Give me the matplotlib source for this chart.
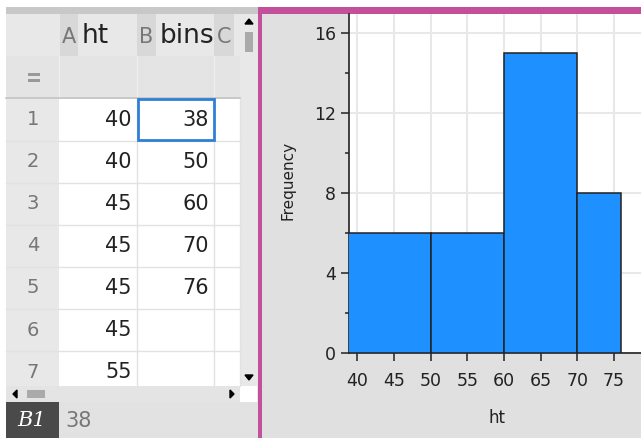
#!/usr/bin/env python3
"""
Lists & Spreadsheet page next to a histogram of ht with custom bins.
"""

import matplotlib
matplotlib.use('Agg')
import matplotlib.pyplot as plt
from matplotlib.patches import Rectangle, Polygon
import numpy as np

# spreadsheet contents (visible rows only)
ht_shown = [40, 40, 45, 45, 45, 45, 55]
bins = [38, 50, 60, 70, 76]
row_ids = [1, 2, 3, 4, 5, 6, 7]

# histogram frequencies per bin
freq = [6, 6, 15, 8]

y_ticks = [0, 4, 8, 12, 16]
y_minor = [2, 6, 10, 14]
x_ticks = [40, 45, 50, 55, 60, 65, 70, 75]

W, H = 641, 438
fig = plt.figure(figsize=(W / 100, H / 100), dpi=100)
fig.patch.set_facecolor('white')

# background canvas in pixel coordinates
bg = fig.add_axes([0, 0, 1, 1])
bg.set_xlim(0, W)
bg.set_ylim(H, 0)
bg.axis('off')


def box(x0, y0, x1, y1, color, **kw):
    bg.add_patch(Rectangle((x0, y0), x1 - x0, y1 - y0, facecolor=color,
                           edgecolor=kw.pop('ec', 'none'), **kw))


# ---- left panel: spreadsheet ----
box(6, 7, 258, 438, '#e6e6e6')
box(6, 7, 258, 14, '#c8c8c8')
# header row
box(6, 14, 240, 56, '#e8e8e8')
for x0, x1, letter, name in [(60, 78, 'A', 'ht'), (137, 156, 'B', 'bins'), (214, 234, 'C', '')]:
    box(x0, 14, x1, 56, '#d8d8d8')
    bg.text((x0 + x1) / 2, 37, letter, ha='center', va='center',
            fontsize=15, color='#777777')
    if name:
        bg.text(x1 + 4, 36, name, ha='left', va='center', fontsize=19,
                color='#222222')
# formula row
box(6, 56, 240, 97, '#e4e4e4')
for x in [59, 137, 214]:
    bg.plot([x, x], [56, 97], color='#eeeeee', lw=1)
box(28, 73, 40, 76, '#999999')
box(28, 79, 40, 82, '#999999')
bg.plot([6, 240], [97.5, 97.5], color='#c4c4c4', lw=1.2)

# data rows
row_h = 42.1
row0 = 98.5
box(6, row0, 59, 386, '#e8e8e8')
box(59, row0, 240, 386, 'white')
for i, rid in enumerate(row_ids):
    yc = row0 + row_h * (i + 0.5)
    y_line = row0 + row_h * (i + 1)
    if y_line < 386:
        bg.plot([6, 240], [y_line] * 2, color='#e2e2e2', lw=1)
    bg.text(33, yc, str(rid), ha='center', va='center', fontsize=14,
            color='#777777')
    bg.text(132, yc, str(ht_shown[i]), ha='right', va='center', fontsize=15,
            color='#222222')
    if i < len(bins):
        bg.text(209, yc, str(bins[i]), ha='right', va='center', fontsize=15,
                color='#222222')
for x in [137, 214, 240]:
    bg.plot([x, x], [row0, 386], color='#e2e2e2', lw=1)
# selected cell B1
bg.add_patch(Rectangle((137.5, row0 + 0.5), 76, 41, facecolor='none',
                       edgecolor='#2f7fd6', lw=2, zorder=5))

# vertical scrollbar
box(240, 14, 258, 386, '#e8e8e8')
bg.add_patch(Polygon([[245, 24], [253, 24], [249, 19]], color='black'))
box(245, 32, 253, 52, '#aaaaaa')
bg.add_patch(Polygon([[245, 375], [253, 375], [249, 380]], color='black'))
# horizontal scrollbar
box(6, 386, 240, 402, '#e4e4e4')
bg.add_patch(Polygon([[13, 394], [17, 390], [17, 398]], color='black'))
box(27, 390, 45, 398, '#aaaaaa')
bg.add_patch(Polygon([[234, 394], [230, 390], [230, 398]], color='black'))
box(240, 386, 257, 402, 'white')
# status bar
box(6, 402, 258, 438, '#e2e2e2')
box(6, 402, 59, 438, '#4a4a4a')
bg.text(32, 421, 'B1', ha='center', va='center', fontsize=15, color='white',
        family='DejaVu Serif', style='italic')
bg.text(65, 421, '38', ha='left', va='center', fontsize=15, color='#777777')

# ---- right panel ----
box(262, 14, W, H, '#e0e0e0')
box(258, 7, W, 14, '#c2509a')
box(258, 7, 262, H, '#c2509a')
bg.text(288, 180, 'Frequency', rotation=90, ha='center', va='center',
        fontsize=11, color='#222222')
bg.text(497, 418, 'ht', ha='center', va='center', fontsize=12,
        color='#222222')

# histogram axes
px_left, px_right, px_top, px_bottom = 349, W + 2, 14, 353
ax = fig.add_axes([px_left / W, (H - px_bottom) / H,
                   (px_right - px_left) / W, (px_bottom - px_top) / H])
ax.set_facecolor('white')
ax.bar(bins[:-1], freq, width=np.diff(bins), align='edge',
       color='#1e90ff', edgecolor='#222222', linewidth=1.1, zorder=3)

px_per_unit = 7.33
ax.set_xlim(40 - (357.3 - px_left) / px_per_unit,
            40 + (px_right - 357.3) / px_per_unit)
ax.set_ylim(0, (px_bottom - px_top) / 20.0)
ax.set_xticks(x_ticks)
ax.set_yticks(y_ticks)
ax.set_yticks(y_minor, minor=True)
ax.grid(True, color='#e8e8e8', linewidth=1.5, zorder=0)
ax.set_axisbelow(True)
for s in ['top', 'right']:
    ax.spines[s].set_visible(False)
for s in ['left', 'bottom']:
    ax.spines[s].set_color('#222222')
    ax.spines[s].set_linewidth(1.2)
ax.tick_params(axis='both', which='major', length=6, width=1.1,
               colors='#222222', labelsize=12.5)
ax.tick_params(axis='y', which='minor', length=3, width=1.1, colors='#222222')
ax.tick_params(axis='x', pad=8)

fig.savefig('out.png', dpi=100, facecolor='white')
